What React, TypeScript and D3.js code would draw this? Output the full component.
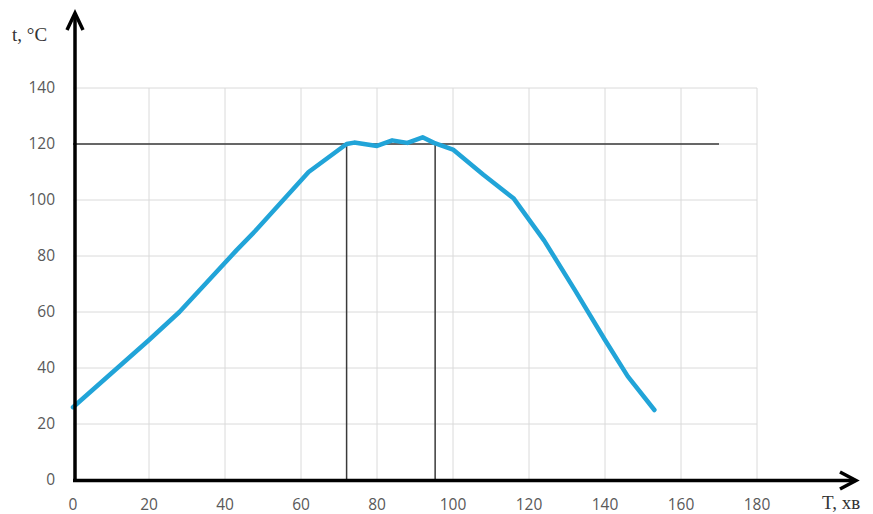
import React, { useEffect, useRef } from "react";
import * as d3 from "d3";

// time, min
const timeMin = [0, 20, 28, 43, 48, 62, 72, 74, 80, 84, 88, 92, 95, 100, 108, 116, 124, 132, 140, 146, 153];
// temperature, °C
const tempC = [26, 50, 60, 82, 89, 110, 120, 120.5, 119.3, 121.3, 120.4, 122.4, 120.4, 118, 109, 100.5, 85.5, 68, 50, 37, 25];

const xTicks = [0, 20, 40, 60, 80, 100, 120, 140, 160, 180];
const yTicks = [0, 20, 40, 60, 80, 100, 120, 140];

// reference lines
const holdLevel = 120;
const holdEnd = 170;
const holdStart = 72;
const holdStop = 95.3;

function App() {
    const ref = useRef<SVGSVGElement>(null);

    useEffect(() => {
        const svg = d3.select(ref.current);
        svg.selectAll("*").remove();

        const x = d3.scaleLinear().domain([0, 180]).range([73, 757]);
        const y = d3.scaleLinear().domain([0, 140]).range([480, 88]);

        // cropped caption line from the page above
        svg.append("text")
            .attr("x", -2)
            .attr("y", -5)
            .style("font-family", "'Liberation Serif', 'DejaVu Serif', serif")
            .style("font-size", "26px")
            .attr("fill", "#000")
            .text("пературу продукту в процесі варіння");

        // grid
        const grid = svg.append("g").attr("stroke", "#dadada").attr("stroke-width", 1);
        grid.selectAll("line.v")
            .data(xTicks.filter(d => d > 0))
            .join("line")
            .attr("class", "v")
            .attr("x1", d => x(d)).attr("x2", d => x(d))
            .attr("y1", y(0)).attr("y2", y(140));
        grid.selectAll("line.h")
            .data(yTicks.filter(d => d > 0))
            .join("line")
            .attr("class", "h")
            .attr("x1", x(0)).attr("x2", x(180))
            .attr("y1", d => y(d)).attr("y2", d => y(d));

        // tick labels
        const labelStyle = (s: any) => s
            .style("font-family", "'Open Sans', 'Liberation Sans', sans-serif")
            .style("font-size", "15.5px")
            .attr("fill", "#595959");
        svg.append("g").selectAll("text")
            .data(yTicks)
            .join("text")
            .attr("x", 55)
            .attr("y", d => y(d))
            .attr("dy", "0.35em")
            .attr("text-anchor", "end")
            .call(labelStyle)
            .text(d => d);
        svg.append("g").selectAll("text")
            .data(xTicks)
            .join("text")
            .attr("x", d => x(d))
            .attr("y", 505)
            .attr("dy", "0.35em")
            .attr("text-anchor", "middle")
            .call(labelStyle)
            .text(d => d);

        // holding level and its bounds
        const ref1 = svg.append("g").attr("stroke", "#3a3a3a").attr("stroke-width", 1.5).attr("fill", "none");
        ref1.append("line")
            .attr("x1", x(0)).attr("x2", x(holdEnd))
            .attr("y1", y(holdLevel)).attr("y2", y(holdLevel));
        ref1.selectAll("line.b")
            .data([holdStart, holdStop])
            .join("line")
            .attr("class", "b")
            .attr("x1", d => x(d)).attr("x2", d => x(d))
            .attr("y1", y(holdLevel)).attr("y2", y(0));

        // temperature curve
        const line = d3.line<number>()
            .x((d, i) => x(timeMin[i]))
            .y(d => y(d));
        svg.append("path")
            .datum(tempC)
            .attr("d", line)
            .attr("fill", "none")
            .attr("stroke", "#21a4d8")
            .attr("stroke-width", 4.5)
            .attr("stroke-linejoin", "round")
            .attr("stroke-linecap", "round");

        // axes with arrows
        const axes = svg.append("g").attr("stroke", "#000").attr("fill", "none").attr("stroke-width", 3.5);
        axes.append("line").attr("x1", 75).attr("x2", 75).attr("y1", 482).attr("y2", 14);
        axes.append("path").attr("d", "M67,30 L75,13 L83,30").attr("stroke-linejoin", "miter");
        axes.append("line").attr("x1", 73).attr("x2", 855).attr("y1", 480.5).attr("y2", 480.5);
        axes.append("path").attr("d", "M840,472 L856,480.5 L840,489").attr("stroke-linejoin", "miter");

        // axis titles
        const titleStyle = (s: any) => s
            .style("font-family", "'Liberation Serif', 'DejaVu Serif', serif")
            .style("font-size", "19px")
            .attr("fill", "#333");
        svg.append("text").attr("x", 12).attr("y", 41).call(titleStyle).text("t, °C");
        svg.append("text").attr("x", 822).attr("y", 509).call(titleStyle).text("T, хв");
    }, []);

    return (
        <svg
            ref={ref}
            width={873}
            height={514}
            style={{ position: "absolute", left: 0, top: 0, background: "#fff" }}
        ></svg>
    );
}

export default App;
